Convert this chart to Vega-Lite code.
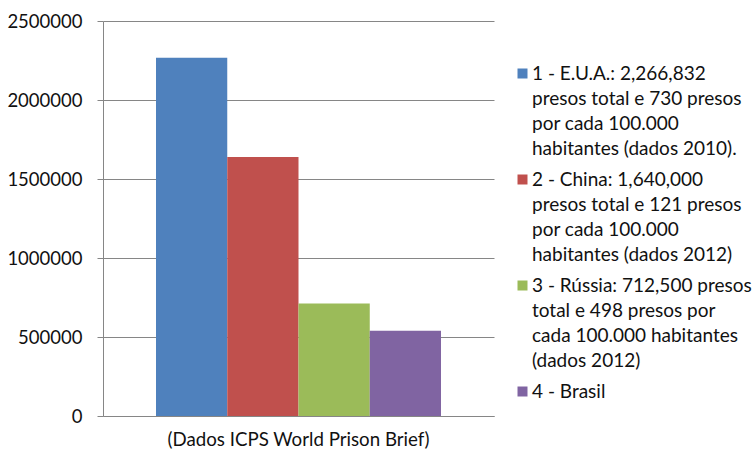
{
  "$schema": "https://vega.github.io/schema/vega-lite/v6.json",
  "width": 391,
  "height": 395,
  "autosize": {"type": "none"},
  "padding": {"left": 103, "top": 21, "right": 261, "bottom": 36},
  "background": "white",
  "data": {
    "values": [
      {"fonte": "(Dados ICPS World Prison Brief)", "legenda": "1 - E.U.A.: 2,266,832\npresos total e 730 presos\npor cada 100.000\nhabitantes (dados 2010).", "presos": 2266832},
      {"fonte": "(Dados ICPS World Prison Brief)", "legenda": "2 - China: 1,640,000\npresos total e 121 presos\npor cada 100.000\nhabitantes (dados 2012)", "presos": 1640000},
      {"fonte": "(Dados ICPS World Prison Brief)", "legenda": "3 - Rússia: 712,500 presos\ntotal e 498 presos por\ncada 100.000 habitantes\n(dados 2012)", "presos": 712500},
      {"fonte": "(Dados ICPS World Prison Brief)", "legenda": "4 - Brasil", "presos": 540000}
    ]
  },
  "mark": {"type": "bar"},
  "encoding": {
    "x": {
      "field": "fonte",
      "type": "nominal",
      "title": null,
      "scale": {"paddingInner": 0, "paddingOuter": 0.186},
      "axis": {
        "labelAngle": 0,
        "labelFont": "Lato",
        "labelFontSize": 18.7,
        "labelColor": "#111111",
        "labelPadding": 14,
        "ticks": false,
        "domainColor": "#868686",
        "labelLimit": 0
      }
    },
    "xOffset": {
      "field": "legenda",
      "type": "nominal",
      "sort": null,
      "scale": {"paddingInner": 0, "paddingOuter": 0}
    },
    "y": {
      "field": "presos",
      "type": "quantitative",
      "title": null,
      "scale": {"domain": [0, 2500000], "nice": false},
      "axis": {
        "values": [0, 500000, 1000000, 1500000, 2000000, 2500000],
        "format": "d",
        "labelFont": "Lato",
        "labelFontSize": 18.5,
        "labelColor": "#111111",
        "labelPadding": 15,
        "tickSize": 6,
        "tickColor": "#868686",
        "domainColor": "#868686",
        "gridColor": "#868686",
        "grid": true
      }
    },
    "color": {
      "field": "legenda",
      "type": "nominal",
      "sort": null,
      "title": null,
      "scale": {"range": ["#4F81BD", "#C0504D", "#9BBB59", "#8064A2"]},
      "legend": {
        "orient": "none",
        "legendX": 410,
        "legendY": 43,
        "padding": 0,
        "symbolType": "square",
        "symbolSize": 100,
        "symbolStrokeWidth": 0,
        "labelFont": "Lato",
        "labelFontSize": 19,
        "labelColor": "#111111",
        "labelBaseline": "middle",
        "labelOffset": 0,
        "labelLimit": 0,
        "rowPadding": 11,
        "labelExpr": "split(datum.label, '\\n')"
      }
    }
  },
  "config": {
    "view": {"stroke": null},
    "axis": {"gridWidth": 1, "domainWidth": 1},
    "style": {"guide-label": {"lineHeight": 25}}
  }
}
